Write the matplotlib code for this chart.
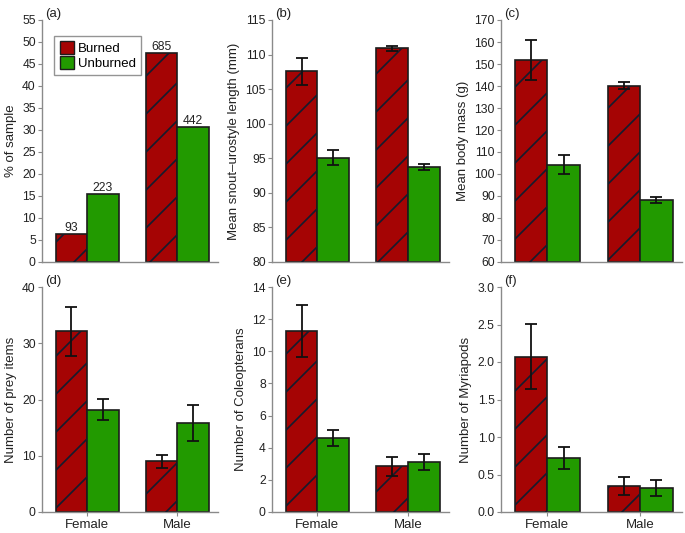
import numpy as np
import matplotlib
matplotlib.use('Agg')
import matplotlib.pyplot as plt
from matplotlib.patches import Patch
from matplotlib.lines import Line2D
from matplotlib.transforms import IdentityTransform

plt.rcParams['font.family'] = ['Liberation Sans', 'DejaVu Sans']

groups = ['Female', 'Male']
groups_legend = ['Burned', 'Unburned']

# (a) % of sample, with counts above bars
pct_burned = [6.4, 47.5]
pct_unburned = [15.5, 30.6]
n_burned = [93, 685]
n_unburned = [223, 442]

# (b) snout-urostyle length
svl_burned = [107.6, 110.9]
svl_burned_err = [1.95, 0.4]
svl_unburned = [95.1, 93.7]
svl_unburned_err = [1.05, 0.45]

# (c) body mass
mass_burned = [152.0, 140.1]
mass_burned_err = [9.1, 1.5]
mass_unburned = [104.3, 88.0]
mass_unburned_err = [4.4, 1.35]

# (d) prey items
prey_burned = [32.1, 9.0]
prey_burned_err = [4.3, 1.2]
prey_unburned = [18.2, 15.9]
prey_unburned_err = [1.85, 3.2]

# (e) coleopterans
col_burned = [11.27, 2.84]
col_burned_err = [1.62, 0.57]
col_unburned = [4.6, 3.13]
col_unburned_err = [0.51, 0.49]

# (f) myriapods
myr_burned = [2.07, 0.346]
myr_burned_err = [0.435, 0.12]
myr_unburned = [0.72, 0.32]
myr_unburned_err = [0.145, 0.105]

RED = '#a50404'
GREEN = '#229a00'
EDGE = '#1c1c1c'
HATCH = '#141c2e'
AXC = '#8a8a8a'

W, H = 685, 533
fig = plt.figure(figsize=(W / 100, H / 100), dpi=100)

lefts = [42, 272, 501]
widths = [176, 177, 181]
rows = [(20, 262), (287, 512)]


def make_ax(col, row):
    x0, w = lefts[col], widths[col]
    top, bot = rows[row]
    return fig.add_axes([x0 / W, 1 - bot / H, w / W, (bot - top) / H])


def hatch_bars(ax, bars, spacing=38):
    # sparse diagonal hatching, drawn in pixel space and clipped to each bar
    for b in bars:
        bb = b.get_window_extent()
        x0, y0, x1, y1 = bb.x0, bb.y0, bb.x1, bb.y1
        k0 = int(np.floor((y0 - x1) / spacing))
        k1 = int(np.ceil((y1 - x0) / spacing))
        for k in range(k0, k1 + 1):
            c = k * spacing + 7
            ln = Line2D([x0, x1], [x0 + c, x1 + c], color=HATCH, lw=1.2,
                        transform=IdentityTransform(), zorder=3)
            ax.add_artist(ln)
            ln.set_clip_path(b)


def panel(ax, burned, unburned, berr, uerr, ylim, yticks, ylabel, tag,
          fmt=None, xlabels=False):
    x = np.arange(len(groups))
    bw = 0.35
    ymin = ylim[0]
    ax.set_xlim(-0.5, 1.45)
    ax.set_ylim(*ylim)
    b1 = ax.bar(x - bw / 2, np.array(burned) - ymin, bw, bottom=ymin,
                color=RED, edgecolor=EDGE, linewidth=1.2, zorder=2)
    b2 = ax.bar(x + bw / 2, np.array(unburned) - ymin, bw, bottom=ymin,
                color=GREEN, edgecolor=EDGE, linewidth=1.2, zorder=2)
    if berr is not None:
        ax.errorbar(x - bw / 2, burned, yerr=berr, fmt='none', ecolor='#111111',
                    elinewidth=1.3, capsize=4, capthick=1.3, zorder=4)
        ax.errorbar(x + bw / 2, unburned, yerr=uerr, fmt='none', ecolor='#111111',
                    elinewidth=1.3, capsize=4, capthick=1.3, zorder=4)
    ax.set_yticks(yticks)
    if fmt:
        ax.set_yticklabels([fmt % v for v in yticks])
    ax.set_ylabel(ylabel, fontsize=9.5, color='#222222')
    for s in ['top', 'right']:
        ax.spines[s].set_visible(False)
    for s in ['left', 'bottom']:
        ax.spines[s].set_color(AXC)
        ax.spines[s].set_linewidth(1.0)
    ax.tick_params(axis='y', length=3, width=0.8, color=AXC, labelsize=8.7,
                   labelcolor='#222222', pad=1.5)
    ax.set_xticks(x)
    if xlabels:
        ax.set_xticklabels(groups, fontsize=9.5, color='#222222')
        ax.tick_params(axis='x', length=3, width=0.8, color=AXC, pad=2)
    else:
        ax.set_xticklabels([])
        ax.tick_params(axis='x', length=0)
    ax.text(0.02, 1.0, tag, transform=ax.transAxes, fontsize=9.5,
            color='#222222', va='bottom', ha='left')
    return b1, b2


axes = [[make_ax(c, r) for c in range(3)] for r in range(2)]

ba, ua = panel(axes[0][0], pct_burned, pct_unburned, None, None, (0, 55),
               np.arange(0, 56, 5), '% of sample', '(a)')
for bars, ns in [(ba, n_burned), (ua, n_unburned)]:
    for b, n in zip(bars, ns):
        axes[0][0].text(b.get_x() + b.get_width() / 2, b.get_height(), str(n),
                        ha='center', va='bottom', fontsize=8.7, color='#222222')

bb_, ub = panel(axes[0][1], svl_burned, svl_unburned, svl_burned_err, svl_unburned_err,
                (80, 115), np.arange(80, 116, 5), 'Mean snout\u2013urostyle length (mm)', '(b)')
bc, uc = panel(axes[0][2], mass_burned, mass_unburned, mass_burned_err, mass_unburned_err,
               (60, 170), np.arange(60, 171, 10), 'Mean body mass (g)', '(c)')
bd, ud = panel(axes[1][0], prey_burned, prey_unburned, prey_burned_err, prey_unburned_err,
               (0, 40), np.arange(0, 41, 10), 'Number of prey items', '(d)', xlabels=True)
be, ue = panel(axes[1][1], col_burned, col_unburned, col_burned_err, col_unburned_err,
               (0, 14), np.arange(0, 15, 2), 'Number of Coleopterans', '(e)', xlabels=True)
bf, uf = panel(axes[1][2], myr_burned, myr_unburned, myr_burned_err, myr_unburned_err,
               (0, 3.0), np.arange(0, 3.01, 0.5), 'Number of Myriapods', '(f)',
               fmt='%.1f', xlabels=True)

for ax, bars in zip([axes[0][0], axes[0][1], axes[0][2], axes[1][0], axes[1][1], axes[1][2]],
                    [ba, bb_, bc, bd, be, bf]):
    hatch_bars(ax, bars)

plt.rcParams['hatch.color'] = HATCH
handles = [Patch(facecolor=RED, edgecolor=EDGE, hatch='/', linewidth=1.0),
           Patch(facecolor=GREEN, edgecolor=EDGE, linewidth=1.0)]
leg = axes[0][0].legend(handles, groups_legend, loc='upper left',
                        bbox_to_anchor=(0.07, 0.935), borderaxespad=0,
                        fontsize=9.5, frameon=True, fancybox=False,
                        handlelength=1.1, handleheight=1.1, handletextpad=0.3,
                        labelspacing=0.1, borderpad=0.4)
leg.get_frame().set_edgecolor('#7a7a7a')
leg.get_frame().set_linewidth(1.0)

fig.savefig('out.png', dpi=100)
